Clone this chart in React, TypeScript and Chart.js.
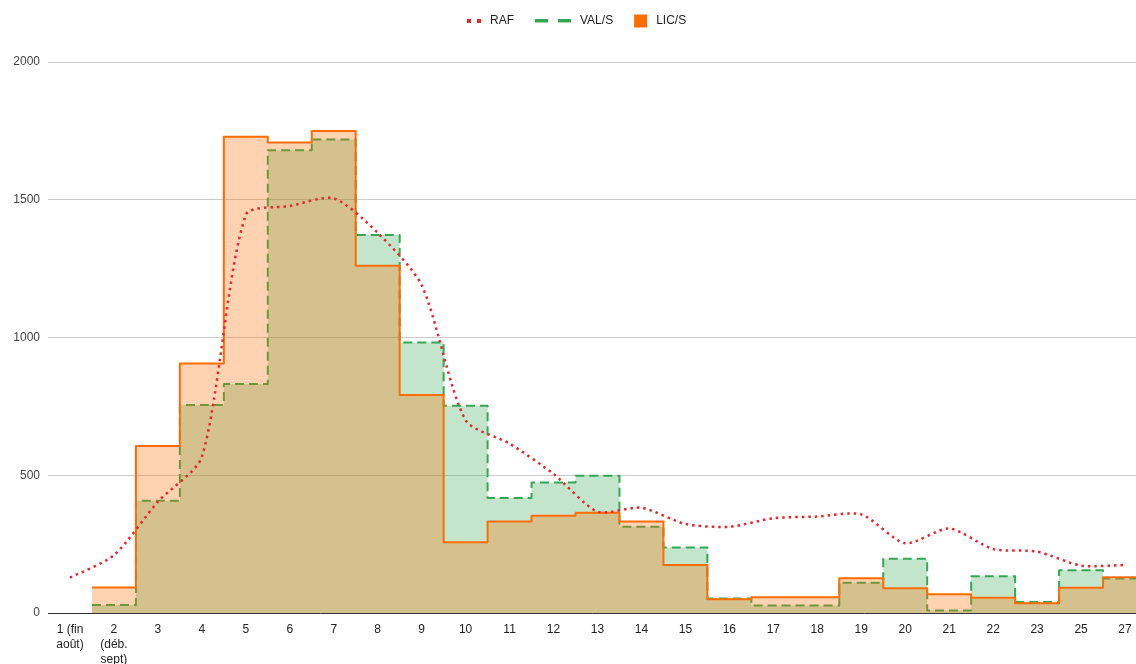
import { useEffect, useRef } from 'react';
import { Chart, registerables } from 'chart.js';

Chart.register(...registerables);

const categories: (string | string[])[] = [
  ['1 (fin', 'août)'],
  ['2', '(déb.', 'sept)'],
  '3', '4', '5', '6', '7', '8', '9', '10', '11', '12', '13', '14', '15', '16',
  '17', '18', '19', '20', '21', '22', '23', '25', '27',
];

const rafValues = [128, 210, 404, 567, 1445, 1477, 1505, 1380, 1190, 700, 615, 505, 368, 382, 323, 313, 344, 350, 358, 253, 307, 232, 223, 172, 174];
const valValues: (number | null)[] = [null, 29, 407, 755, 831, 1680, 1719, 1372, 982, 752, 417, 474, 498, 313, 238, 53, 27, 27, 110, 197, 9, 133, 40, 155, 125];
const licValues: (number | null)[] = [null, 93, 606, 906, 1729, 1708, 1750, 1260, 791, 257, 332, 353, 364, 332, 174, 50, 57, 57, 126, 90, 68, 55, 35, 92, 130];
const yTicks = [0, 500, 1000, 1500, 2000];

const RED = '#e8262e';
const GREEN = '#34a853';
const ORANGE = '#ff6d01';
const FONT = '"Liberation Sans", Arial, sans-serif';

function stepEdges(values: (number | null)[]) {
  const pts = values.map((v, i) => ({ x: i - 0.5, y: v }));
  pts.push({ x: values.length - 0.5, y: values[values.length - 1] });
  return pts;
}

const legendItems = [
  { label: 'RAF', kind: 'dots', color: RED },
  { label: 'VAL/S', kind: 'dashes', color: GREEN },
  { label: 'LIC/S', kind: 'square', color: ORANGE },
];

const customLegend = {
  id: 'customLegend',
  afterDraw(chart: any) {
    const ctx = chart.ctx as CanvasRenderingContext2D;
    ctx.save();
    ctx.font = `12px ${FONT}`;
    ctx.textBaseline = 'middle';
    ctx.textAlign = 'left';
    let x = 467;
    const y = 21;
    legendItems.forEach((it) => {
      ctx.fillStyle = it.color;
      if (it.kind === 'dots') {
        ctx.fillRect(x, y - 2, 4, 4);
        ctx.fillRect(x + 10, y - 2, 4, 4);
        x += 14 + 9;
      } else if (it.kind === 'dashes') {
        ctx.fillRect(x, y - 2, 13, 3.5);
        ctx.fillRect(x + 23, y - 2, 13, 3.5);
        x += 36 + 9;
      } else {
        ctx.fillRect(x, y - 6.5, 13, 13);
        x += 13 + 9;
      }
      ctx.fillStyle = '#222222';
      ctx.fillText(it.label, x, y);
      x += ctx.measureText(it.label).width + 21;
    });
    ctx.restore();
  },
};

export default function App() {
  const canvasRef = useRef<HTMLCanvasElement | null>(null);

  useEffect(() => {
    document.body.style.margin = '0';
    document.body.style.overflow = 'hidden';
    const canvas = canvasRef.current;
    if (!canvas) return;
    const chart = new Chart(canvas, {
      type: 'line',
      data: {
        datasets: [
          {
            label: 'RAF',
            data: rafValues.map((v, i) => ({ x: i, y: v })),
            borderColor: RED,
            borderWidth: 2.5,
            borderDash: [2.5, 4],
            borderCapStyle: 'butt',
            tension: 0.25,
            pointRadius: 0,
            fill: false,
            order: 0,
          },
          {
            label: 'VAL/S',
            data: stepEdges(valValues),
            stepped: 'before',
            borderColor: GREEN,
            borderWidth: 2,
            borderDash: [9, 5],
            borderJoinStyle: 'round',
            backgroundColor: 'rgba(52,168,83,0.3)',
            fill: 'origin',
            pointRadius: 0,
            order: 2,
          },
          {
            label: 'LIC/S',
            data: stepEdges(licValues),
            stepped: 'before',
            borderColor: ORANGE,
            borderWidth: 2,
            borderJoinStyle: 'round',
            backgroundColor: 'rgba(255,109,1,0.3)',
            fill: 'origin',
            pointRadius: 0,
            order: 1,
          },
        ] as any,
      },
      options: {
        animation: false,
        responsive: false,
        maintainAspectRatio: false,
        layout: { padding: { top: 62, left: 0, right: 0, bottom: 0 } },
        plugins: {
          legend: { display: false },
          tooltip: { enabled: false },
        },
        scales: {
          x: {
            type: 'linear',
            min: -0.5,
            max: 24.25,
            grid: { display: false, drawTicks: false },
            border: { display: true, color: '#333333', width: 1 },
            afterBuildTicks: (scale: any) => {
              scale.ticks = categories.map((_, i) => ({ value: i }));
            },
            afterFit: (scale: any) => {
              scale.height = 51;
              scale.paddingRight = 0;
              scale.paddingLeft = 0;
            },
            ticks: {
              autoSkip: false,
              maxRotation: 0,
              minRotation: 0,
              padding: 9,
              color: '#222222',
              font: { family: FONT, size: 12, lineHeight: 1.25 },
              callback: (value: any) => categories[value as number] ?? '',
            },
          },
          y: {
            type: 'linear',
            min: 0,
            max: 2000,
            afterBuildTicks: (scale: any) => {
              scale.ticks = yTicks.map((v) => ({ value: v }));
            },
            afterFit: (scale: any) => {
              scale.width = 48;
            },
            grid: { color: '#cccccc', drawTicks: false },
            border: { display: false },
            ticks: {
              padding: 8,
              color: '#444444',
              font: { family: FONT, size: 12 },
              callback: (value: any) => String(value),
            },
          },
        },
      } as any,
      plugins: [customLegend],
    });
    return () => chart.destroy();
  }, []);

  return (
    <div style={{ width: 1136, height: 664 }}>
      <canvas ref={canvasRef} width={1136} height={664} style={{ display: 'block' }} />
    </div>
  );
}
